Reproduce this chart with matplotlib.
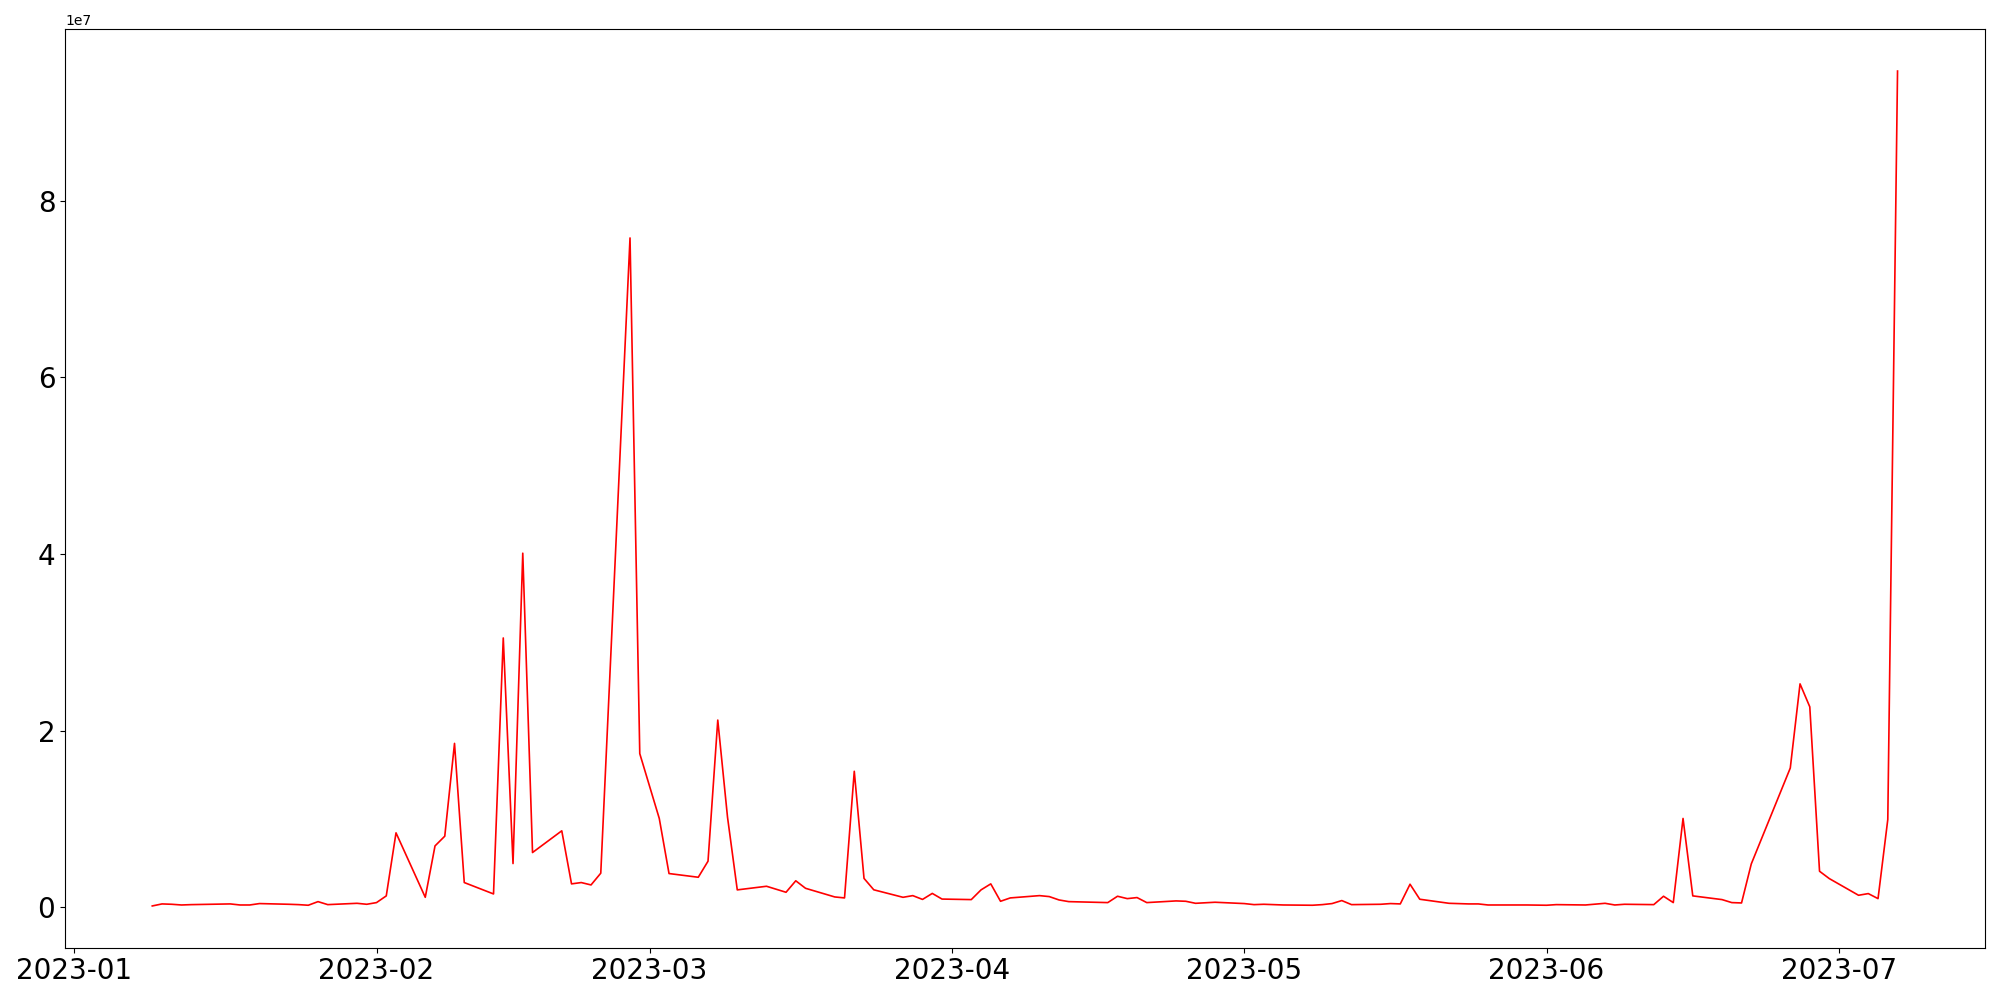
import pandas as pd
import matplotlib
matplotlib.use("Agg")
import matplotlib.pyplot as plt

# dates and values (in millions)
dates = [
    "2023-01-09", "2023-01-10", "2023-01-11", "2023-01-12", "2023-01-13",
    "2023-01-17", "2023-01-18", "2023-01-19", "2023-01-20", "2023-01-23",
    "2023-01-24", "2023-01-25", "2023-01-26", "2023-01-27", "2023-01-30",
    "2023-01-31", "2023-02-01", "2023-02-02", "2023-02-03", "2023-02-06",
    "2023-02-07", "2023-02-08", "2023-02-09", "2023-02-10", "2023-02-13",
    "2023-02-14", "2023-02-15", "2023-02-16", "2023-02-17", "2023-02-20",
    "2023-02-21", "2023-02-22", "2023-02-23", "2023-02-24", "2023-02-27",
    "2023-02-28", "2023-03-02", "2023-03-03", "2023-03-06", "2023-03-07",
    "2023-03-08", "2023-03-09", "2023-03-10", "2023-03-13", "2023-03-15",
    "2023-03-16", "2023-03-17", "2023-03-20", "2023-03-21", "2023-03-22",
    "2023-03-23", "2023-03-24", "2023-03-27", "2023-03-28", "2023-03-29",
    "2023-03-30", "2023-03-31", "2023-04-03", "2023-04-04", "2023-04-05",
    "2023-04-06", "2023-04-07", "2023-04-10", "2023-04-11", "2023-04-12",
    "2023-04-13", "2023-04-17", "2023-04-18", "2023-04-19", "2023-04-20",
    "2023-04-21", "2023-04-24", "2023-04-25", "2023-04-26", "2023-04-28",
    "2023-05-01", "2023-05-02", "2023-05-03", "2023-05-05", "2023-05-08",
    "2023-05-09", "2023-05-10", "2023-05-11", "2023-05-12", "2023-05-15",
    "2023-05-16", "2023-05-17", "2023-05-18", "2023-05-19", "2023-05-22",
    "2023-05-24", "2023-05-25", "2023-05-26", "2023-05-30", "2023-06-01",
    "2023-06-02", "2023-06-05", "2023-06-07", "2023-06-08", "2023-06-09",
    "2023-06-12", "2023-06-13", "2023-06-14", "2023-06-15", "2023-06-16",
    "2023-06-19", "2023-06-20", "2023-06-21", "2023-06-22", "2023-06-26",
    "2023-06-27", "2023-06-28", "2023-06-29", "2023-06-30", "2023-07-03",
    "2023-07-04", "2023-07-05", "2023-07-06", "2023-07-07",
]

values_m = [
    0.15, 0.38, 0.34, 0.26, 0.30,
    0.38, 0.26, 0.26, 0.42, 0.34,
    0.30, 0.23, 0.64, 0.30, 0.45,
    0.34, 0.53, 1.29, 8.43, 1.13,
    6.95, 8.05, 18.56, 2.80, 1.51,
    30.5, 4.95, 40.1, 6.2, 8.66,
    2.65, 2.80, 2.53, 3.86, 75.8,
    17.4, 10.06, 3.82, 3.40, 5.22,
    21.2, 10.2, 1.97, 2.38, 1.70,
    3.0, 2.15, 1.17, 1.06, 15.4,
    3.27, 1.98, 1.13, 1.32, 0.89,
    1.57, 0.93, 0.87, 1.97, 2.65,
    0.68, 1.06, 1.32, 1.21, 0.83,
    0.64, 0.53, 1.25, 0.98, 1.10,
    0.53, 0.72, 0.68, 0.45, 0.57,
    0.42, 0.30, 0.34, 0.26, 0.23,
    0.30, 0.42, 0.76, 0.30, 0.34,
    0.42, 0.38, 2.61, 0.91, 0.45,
    0.38, 0.38, 0.26, 0.26, 0.23,
    0.30, 0.26, 0.45, 0.26, 0.34,
    0.30, 1.25, 0.53, 10.06, 1.29,
    0.87, 0.53, 0.49, 4.91, 15.77,
    25.3, 22.7, 4.08, 3.25, 1.36,
    1.55, 0.98, 9.94, 94.7,
]

x = pd.to_datetime(dates)
y = [v * 1e6 for v in values_m]

fig, ax = plt.subplots(figsize=(20, 10), dpi=100)
ax.plot(x, y, color='red', linewidth=1.2)

ax.tick_params(axis='both', labelsize=20)

plt.subplots_adjust(left=0.0325, right=0.9924, top=0.9707, bottom=0.0523)
fig.savefig('out.png')
